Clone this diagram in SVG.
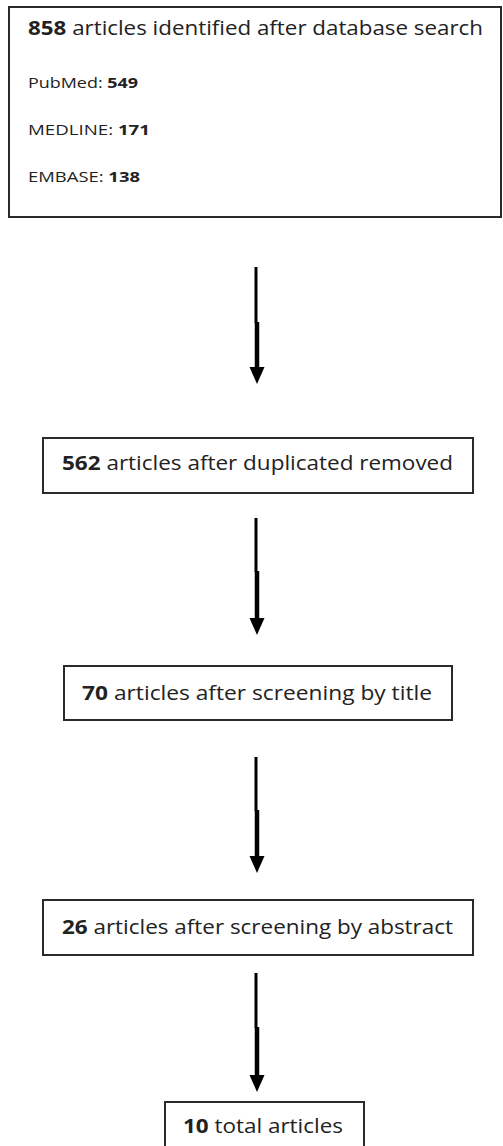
<svg xmlns="http://www.w3.org/2000/svg" width="503" height="1146" viewBox="0 0 503 1146">
<style>
.box{fill:#fff;stroke:#2a2a2a;stroke-width:2}
.t{font-family:"Open Sans","Liberation Sans",sans-serif;fill:#222;font-size:20px}
.s{font-size:15px}
.b{font-weight:bold}
.thin{stroke:#000;stroke-width:3}
.thick{stroke:#000;stroke-width:4.5}
.head{fill:#000}
</style>
<rect width="503" height="1146" fill="#fff"/>
<g id="n1">
<rect class="box" x="9" y="7" width="492" height="210"/>
<text class="t" x="28" y="35" textLength="455" lengthAdjust="spacingAndGlyphs"><tspan class="b">858</tspan> articles identified after database search</text>
<text class="t s" x="28" y="88" textLength="110" lengthAdjust="spacingAndGlyphs">PubMed: <tspan class="b">549</tspan></text>
<text class="t s" x="28" y="135" textLength="122" lengthAdjust="spacingAndGlyphs">MEDLINE: <tspan class="b">171</tspan></text>
<text class="t s" x="28" y="182" textLength="112" lengthAdjust="spacingAndGlyphs">EMBASE: <tspan class="b">138</tspan></text>
</g>
<g id="n2">
<rect class="box" x="43" y="438" width="430" height="55"/>
<text class="t" x="62" y="470" textLength="391" lengthAdjust="spacingAndGlyphs"><tspan class="b">562</tspan> articles after duplicated removed</text>
</g>
<g id="n3">
<rect class="box" x="64" y="666" width="388" height="54"/>
<text class="t" x="82" y="700" textLength="350" lengthAdjust="spacingAndGlyphs"><tspan class="b">70</tspan> articles after screening by title</text>
</g>
<g id="n4">
<rect class="box" x="43" y="900" width="430" height="55"/>
<text class="t" x="62" y="934" textLength="391" lengthAdjust="spacingAndGlyphs"><tspan class="b">26</tspan> articles after screening by abstract</text>
</g>
<g id="n5">
<rect class="box" x="165" y="1102" width="199" height="60"/>
<text class="t" x="183" y="1133" textLength="160" lengthAdjust="spacingAndGlyphs"><tspan class="b">10</tspan> total articles</text>
</g>
<g id="connectors">
<g id="e1">
<line class="thin" x1="256" y1="267" x2="256" y2="323"/>
<line class="thick" x1="257" y1="322" x2="257" y2="369"/>
<polygon class="head" points="249.5,367 264.5,367 257,384"/>
</g>
<g id="e2">
<line class="thin" x1="256" y1="518" x2="256" y2="572"/>
<line class="thick" x1="257" y1="571" x2="257" y2="620"/>
<polygon class="head" points="249.5,618 264.5,618 257,635"/>
</g>
<g id="e3">
<line class="thin" x1="256" y1="757" x2="256" y2="811"/>
<line class="thick" x1="257" y1="810" x2="257" y2="858"/>
<polygon class="head" points="249.5,856 264.5,856 257,873"/>
</g>
<g id="e4">
<line class="thin" x1="256" y1="973" x2="256" y2="1028"/>
<line class="thick" x1="257" y1="1027" x2="257" y2="1077"/>
<polygon class="head" points="249.5,1075 264.5,1075 257,1092"/>
</g>
</g>
</svg>
